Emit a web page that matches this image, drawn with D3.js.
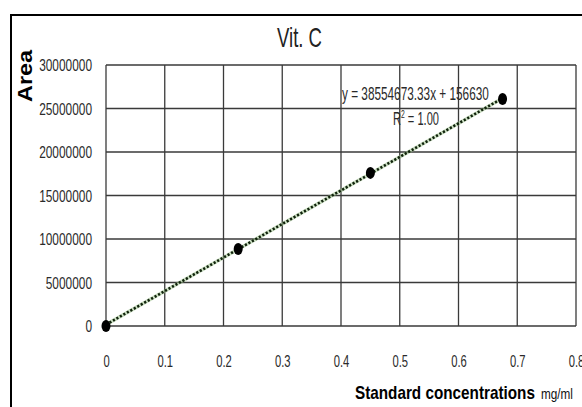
<!DOCTYPE html>
<html>
<head>
<meta charset="utf-8">
<script src="https://cdn.jsdelivr.net/npm/d3@7"></script>
<style>
  body { margin: 0; background: #fff; }
  svg { display: block; }
  text { font-family: "Liberation Sans", Arial, sans-serif; }
</style>
</head>
<body>
<svg id="chart" width="582" height="407"></svg>
<script>
// calibration points (mg/ml, peak area)
const concentrations = [0, 0.225, 0.45, 0.675];
const areas = [0, 8850000, 17600000, 26100000];
const xTicks = [0, 0.1, 0.2, 0.3, 0.4, 0.5, 0.6, 0.7, 0.8];
const yTicks = [0, 5000000, 10000000, 15000000, 20000000, 25000000, 30000000];
const slope = 38554673.33;
const intercept = 156630;

const svg = d3.select("#chart");
const margin = {top: 65, right: 6, bottom: 81, left: 106};
const width = +svg.attr("width");
const height = +svg.attr("height");
const innerW = width - margin.left - margin.right;
const innerH = height - margin.top - margin.bottom;

// the source text is a narrow face, so squeeze the glyphs horizontally
function squeeze(sel, factor) {
  sel.each(function() {
    const w = this.getComputedTextLength();
    d3.select(this).attr("textLength", w * factor).attr("lengthAdjust", "spacingAndGlyphs");
  });
}
// place a text at (x, y) and scale it so it is w pixels wide
function narrowText(parent, x, y, w, txt, size, weight, fill) {
  const grp = parent.append("g");
  const t = grp.append("text")
    .attr("font-size", size).attr("font-weight", weight || "normal")
    .attr("fill", fill || "#222")
    .text(txt);
  const nat = t.node().getComputedTextLength();
  grp.attr("transform", `translate(${x},${y}) scale(${w / nat},1)`);
  return t;
}

// outer frame (cut off at right and bottom)
svg.append("rect")
  .attr("x", 11).attr("y", 15)
  .attr("width", 600).attr("height", 420)
  .attr("fill", "none")
  .attr("stroke", "#000")
  .attr("stroke-width", 2);

const x = d3.scaleLinear().domain([0, 0.8]).range([0, innerW]);
const y = d3.scaleLinear().domain([0, 30000000]).range([innerH, 0]);

const g = svg.append("g").attr("transform", `translate(${margin.left},${margin.top})`);

// grid
g.append("g")
  .selectAll("line")
  .data(yTicks)
  .join("line")
  .attr("x1", 0).attr("x2", innerW)
  .attr("y1", d => y(d)).attr("y2", d => y(d))
  .attr("stroke", "#3a3a3a").attr("stroke-width", 1.3);

g.append("g")
  .selectAll("line")
  .data(xTicks)
  .join("line")
  .attr("x1", d => x(d)).attr("x2", d => x(d))
  .attr("y1", 0).attr("y2", innerH)
  .attr("stroke", "#3a3a3a").attr("stroke-width", 1.3);

// tick labels via d3 axes, no lines
const yAxis = g.append("g")
  .call(d3.axisLeft(y).tickValues(yTicks).tickFormat(d3.format("d")).tickSize(0).tickPadding(14));
yAxis.select(".domain").remove();
yAxis.selectAll("text").attr("font-size", 16.5).attr("fill", "#2a2a2a").attr("dy", "0.36em")
  .style("font-family", "'Liberation Sans', Arial, sans-serif");
squeeze(yAxis.selectAll("text"), 0.72);

const xAxis = g.append("g")
  .attr("transform", `translate(0,${innerH})`)
  .call(d3.axisBottom(x).tickValues(xTicks).tickFormat(d => d === 0 ? "0" : d3.format(".1f")(d)).tickSize(0).tickPadding(29));
xAxis.select(".domain").remove();
xAxis.selectAll("text").attr("font-size", 16.5).attr("fill", "#2a2a2a")
  .style("font-family", "'Liberation Sans', Arial, sans-serif");
squeeze(xAxis.selectAll("text"), 0.68);

// trendline
const xEnd = concentrations[concentrations.length - 1];
g.append("line")
  .attr("x1", x(0)).attr("y1", y(intercept))
  .attr("x2", x(xEnd)).attr("y2", y(slope * xEnd + intercept))
  .attr("stroke", "#9cc48a")
  .attr("stroke-width", 3.5)
  .attr("stroke-opacity", 0.5);
g.append("line")
  .attr("x1", x(0)).attr("y1", y(intercept))
  .attr("x2", x(xEnd)).attr("y2", y(slope * xEnd + intercept))
  .attr("stroke", "#10220c")
  .attr("stroke-width", 2.6)
  .attr("stroke-dasharray", "2.2,1.8");

// points
g.selectAll("ellipse.pt")
  .data(concentrations)
  .join("ellipse")
  .attr("class", "pt")
  .attr("cx", d => x(d))
  .attr("cy", (d, i) => y(areas[i]))
  .attr("rx", 4.5).attr("ry", 6)
  .attr("fill", "#000");

// equation
narrowText(svg, 342, 100, 147, "y = 38554673.33x + 156630", 18, "normal", "#2a2a2a");
const r2g = svg.append("g");
const r2 = r2g.append("text")
  .attr("font-size", 18).attr("fill", "#2a2a2a");
r2.append("tspan").text("R");
r2.append("tspan").attr("dy", -7).attr("font-size", 11).text("2");
r2.append("tspan").attr("dy", 7).text(" = 1.00");
r2g.attr("transform", `translate(393,125) scale(${46 / r2.node().getComputedTextLength()},1)`);

// title
narrowText(svg, 277, 47, 45, "Vit. C", 28, "normal", "#222");

// y label
const yl = svg.append("text")
  .attr("transform", "translate(32,76) rotate(-90)")
  .attr("text-anchor", "middle")
  .attr("font-size", 21).attr("font-weight", "bold")
  .attr("fill", "#000")
  .text("Area");
yl.attr("textLength", 52).attr("lengthAdjust", "spacingAndGlyphs");

// x label
narrowText(svg, 355, 399, 180, "Standard concentrations", 18, "bold", "#000");
narrowText(svg, 541, 399, 32, "mg/ml", 15, "normal", "#111");
</script>
</body>
</html>
